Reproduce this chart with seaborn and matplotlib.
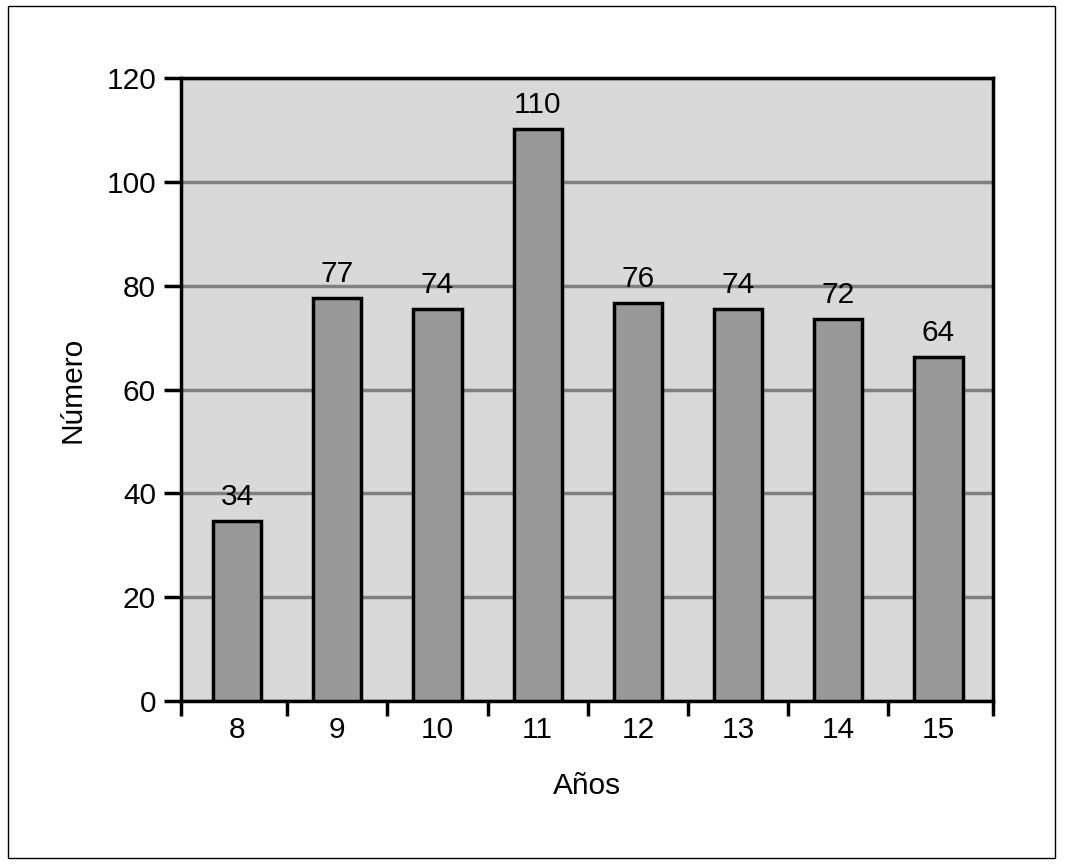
import numpy as np
import pandas as pd
import matplotlib
matplotlib.use("Agg")
import matplotlib.pyplot as plt
import seaborn as sns
from matplotlib.patches import Rectangle

# data
anos = ["8", "9", "10", "11", "12", "13", "14", "15"]
alturas = [34.7, 77.6, 75.5, 110.2, 76.7, 75.5, 73.6, 66.3]   # drawn bar heights
etiquetas = ["34", "77", "74", "110", "76", "74", "72", "64"]  # printed labels
yticks = [0, 20, 40, 60, 80, 100, 120]

df = pd.DataFrame({"Años": anos, "Número": alturas})

sns.set_style("white")
plt.rcParams["font.family"] = ["Liberation Sans", "DejaVu Sans"]
plt.rcParams["text.color"] = "black"
plt.rcParams["xtick.color"] = "black"
plt.rcParams["ytick.color"] = "black"
plt.rcParams["axes.labelcolor"] = "black"

fs = 21.5

fig = plt.figure(figsize=(10.65, 8.68), dpi=100)
ax = fig.add_axes([0.170, 0.1924, 0.762, 0.7177])
ax.set_facecolor("#d9d9d9")

sns.barplot(data=df, x="Años", y="Número", order=anos, color="#999999",
            saturation=1, width=0.48, edgecolor="black", linewidth=2.5, ax=ax, zorder=3)

for i, t in enumerate(etiquetas):
    ax.annotate(t, (i, alturas[i]), xytext=(0, 7), textcoords="offset points",
                ha="center", va="bottom", fontsize=fs)

x0, x1 = -0.56, 7.54
ax.set_ylim(0, 120)
ax.set_xlim(x0, x1)
ax.set_yticks(yticks)
ax.yaxis.grid(True, color="#808080", linewidth=2.5, zorder=1)
ax.set_axisbelow(True)
for s in ax.spines.values():
    s.set_visible(True)
    s.set_color("black")
    s.set_linewidth(2.5)

ax.set_xticks([x0] + list(np.arange(0.5, 7, 1)) + [x1], minor=True)
ax.tick_params(axis="x", which="major", length=0, labelsize=fs, pad=11)
ax.tick_params(axis="x", which="minor", bottom=True, length=11, width=2.5,
               color="black", direction="out")
ax.tick_params(axis="y", length=12, width=2.5, labelsize=fs, pad=6, left=True)

ax.set_xlabel("Años", fontsize=fs, labelpad=20)
ax.set_ylabel("Número", fontsize=fs, labelpad=14)

fig.patches.append(Rectangle((8 / 1065, 1 - 858 / 868), 1047 / 1065, 852 / 868,
                             transform=fig.transFigure, fill=False,
                             edgecolor="black", linewidth=1))

fig.savefig("out.png", dpi=100)
